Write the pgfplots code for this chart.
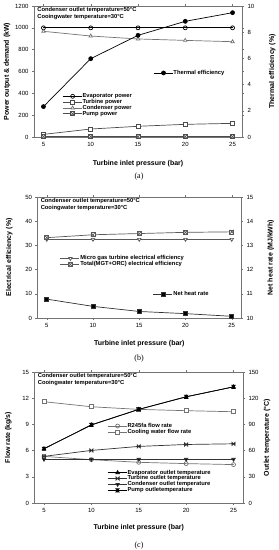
\documentclass[border=0pt]{standalone}
\usepackage{fontspec}
\setmainfont{Liberation Sans}
\newfontfamily\seriffont{Liberation Serif}
\usepackage{pgfplots}
\pgfplotsset{compat=1.18}

\pgfdeclareplotmark{hourglass}{%
  \pgfpathmoveto{\pgfqpoint{-\pgfplotmarksize}{\pgfplotmarksize}}%
  \pgfpathlineto{\pgfqpoint{\pgfplotmarksize}{\pgfplotmarksize}}%
  \pgfpathlineto{\pgfqpoint{-\pgfplotmarksize}{-\pgfplotmarksize}}%
  \pgfpathlineto{\pgfqpoint{\pgfplotmarksize}{-\pgfplotmarksize}}%
  \pgfpathclose\pgfusepathqfillstroke}
\pgfdeclareplotmark{boxx}{%
  \pgfpathrectangle{\pgfqpoint{-\pgfplotmarksize}{-\pgfplotmarksize}}{\pgfqpoint{2\pgfplotmarksize}{2\pgfplotmarksize}}%
  \pgfusepathqfillstroke
  \pgfpathmoveto{\pgfqpoint{-\pgfplotmarksize}{\pgfplotmarksize}}%
  \pgfpathlineto{\pgfqpoint{\pgfplotmarksize}{-\pgfplotmarksize}}%
  \pgfpathmoveto{\pgfqpoint{-\pgfplotmarksize}{-\pgfplotmarksize}}%
  \pgfpathlineto{\pgfqpoint{\pgfplotmarksize}{\pgfplotmarksize}}%
  \pgfusepathqstroke}

\pgfplotsset{
  base/.style={
    scale only axis,
    xmin=4, xmax=26, xtick={5,10,15,20,25},
    tick label style={font=\fontsize{6}{7}\selectfont},
    /pgf/number format/assume math mode=true,
    /pgf/number format/1000 sep={},
    tick align=outside, major tick length=2pt,
    axis line style={black!55, line width=0.4pt},
    every tick/.style={black!55},
    label style={font=\bfseries\fontsize{7}{8}\selectfont},
    legend style={draw=none, fill=none, font=\bfseries\fontsize{5.8}{6}\selectfont,
      inner sep=0pt, anchor=west, row sep=-1pt,
      nodes={inner sep=0.6pt}},
    legend cell align=left,
    legend image code/.code={\draw[mark repeat=2,mark phase=2,##1] plot coordinates {(0pt,0pt)(10pt,0pt)(19pt,0pt)};},
    every axis plot/.append style={line width=0.7pt, mark size=2pt},
  },
  leftlab/.style={ylabel style={at={(axis description cs:#1,0.5)}, anchor=center}},
  rightlab/.style={ylabel style={at={(axis description cs:#1,0.5)}, anchor=center}},
  xlab/.style={xlabel style={at={(axis description cs:0.5,0)}, anchor=center, yshift=#1}},
}
\newcommand\annot{\node[anchor=north west, font=\bfseries\fontsize{5.8}{7}\selectfont, align=left, inner sep=0pt] at (axis description cs:0.015,0.99) {Condenser outlet temperature=50°C\\Cooingwater temperature=30°C};}

\begin{document}
\begin{tikzpicture}
\path[use as bounding box] (0,0) rectangle (279pt,550pt);

% ---------------- (a) ----------------
\begin{axis}[base, at={(34pt,413pt)}, anchor=south west, width=208pt, height=131pt,
  ymin=0, ymax=1200, ytick={0,200,...,1200},
  xlabel={Turbine inlet pressure (bar)}, xlab=-27pt,
  ylabel={Power output \& demand (kW)}, leftlab=-0.13,
  legend style={at={(axis description cs:0.135,0.244)}}]
\addplot[black, mark=o, mark options={fill=white}] coordinates {(5,1000)(10,1000)(15,1000)(20,1000)(25,1000)};
\addlegendentry{Evaporator power}
\addplot[black!70, mark=square*, mark options={fill=white}] coordinates {(5,24)(10,73)(15,98)(20,116)(25,125)};
\addlegendentry{Turbine power}
\addplot[black!55, mark=triangle*, mark options={fill=white}] coordinates {(5,968)(10,925)(15,898)(20,885)(25,873)};
\addlegendentry{Condenser power}
\addplot[black!70, mark=boxx, mark options={fill=white}] coordinates {(5,3)(10,3)(15,3)(20,3)(25,3)};
\addlegendentry{Pump power}
\annot
\end{axis}
\begin{axis}[base, at={(34pt,413pt)}, anchor=south west, width=208pt, height=131pt,
  axis y line*=right, axis x line=none,
  ymin=0, ymax=10, ytick={0,2,...,10},
  ylabel={Thermal efficiency (\%)}, rightlab=1.146,
  legend style={at={(axis description cs:0.572,0.489)}}]
\addplot[black, mark=*] coordinates {(5,2.32)(10,5.98)(15,7.76)(20,8.83)(25,9.49)};
\addlegendentry{Thermal efficiency}
\end{axis}
\node[font=\seriffont\fontsize{8}{9}\selectfont] at (139pt,373pt) {(a)};

% ---------------- (b) ----------------
\begin{axis}[base, at={(37.5pt,232pt)}, anchor=south west, width=203.5pt, height=121pt,
  ymin=0, ymax=50, ytick={0,10,...,50},
  xlabel={Turbine inlet pressure (bar)}, xlab=-26pt,
  ylabel={Electrical efficiency (\%)}, leftlab=-0.138,
  legend style={at={(axis description cs:0.11,0.467)}}]
\addplot[black!65, mark=triangle*, mark options={fill=white, rotate=180}] coordinates {(5,32.5)(10,32.5)(15,32.5)(20,32.5)(25,32.5)};
\addlegendentry{Micro gas turbine electrical efficiency}
\addplot[black!65, mark=boxx, mark options={fill=white}] coordinates {(5,33.2)(10,34.4)(15,34.9)(20,35.4)(25,35.6)};
\addlegendentry{Total(MGT+ORC) electrical efficiency}
\annot
\end{axis}
\begin{axis}[base, at={(37.5pt,232pt)}, anchor=south west, width=203.5pt, height=121pt,
  axis y line*=right, axis x line=none,
  ymin=10, ymax=15, ytick={10,11,...,15},
  ylabel={Net heat rate (MJ/kWh)}, rightlab=1.147,
  legend style={at={(axis description cs:0.567,0.198)}}]
\addplot[black!80, mark=square*, mark options={fill=black}] coordinates {(5,10.78)(10,10.48)(15,10.27)(20,10.18)(25,10.07)};
\addlegendentry{Net heat rate}
\end{axis}
\node[font=\seriffont\fontsize{8}{9}\selectfont] at (139pt,191pt) {(b)};

% ---------------- (c) ----------------
\begin{axis}[base, at={(34.5pt,47pt)}, anchor=south west, width=208.5pt, height=131pt,
  ymin=0, ymax=15, ytick={0,3,...,15},
  xlabel={Turbine inlet pressure (bar)}, xlab=-25pt,
  ylabel={Flow rate (kg/s)}, leftlab=-0.125,
  legend style={at={(axis description cs:0.348,0.565)}}]
\addplot[black!55, mark=o, mark options={fill=white}] coordinates {(5,5.34)(10,4.96)(15,4.66)(20,4.51)(25,4.40)};
\addlegendentry{R245fa flow rate}
\addplot[black!55, mark=square*, mark options={fill=white}] coordinates {(5,11.6)(10,11.02)(15,10.72)(20,10.57)(25,10.45)};
\addlegendentry{Cooling water flow rate}
\annot
\end{axis}
\begin{axis}[base, at={(34.5pt,47pt)}, anchor=south west, width=208.5pt, height=131pt,
  axis y line*=right, axis x line=none,
  ymin=0, ymax=150, ytick={0,30,...,150},
  ylabel={Outlet temperature (°C)}, rightlab=1.115,
  legend style={at={(axis description cs:0.348,0.164)}}]
\addplot[black, mark=triangle*, mark options={fill=black}] coordinates {(5,62.1)(10,89.4)(15,107.2)(20,121.6)(25,133)};
\addlegendentry{Evaporator outlet temperature}
\addplot[black!80, mark=hourglass, mark options={fill=black, rotate=90, scale=0.8}] coordinates {(5,53.4)(10,60.2)(15,64.8)(20,67)(25,67.8)};
\addlegendentry{Turbine outlet temperature}
\addplot[black!80, mark=triangle*, mark options={fill=black, rotate=180}] coordinates {(5,50)(10,50)(15,50)(20,50)(25,50)};
\addlegendentry{Condenser outlet temperature}
\addplot[black, mark=hourglass, mark options={fill=black, scale=0.8}] coordinates {(5,62.1)(10,89.4)(15,107.2)(20,121.6)(25,133)};
\addlegendentry{Pump outletemperature}
\end{axis}
\node[font=\seriffont\fontsize{8}{9}\selectfont] at (139pt,4pt) {(c)};
\end{tikzpicture}
\end{document}
